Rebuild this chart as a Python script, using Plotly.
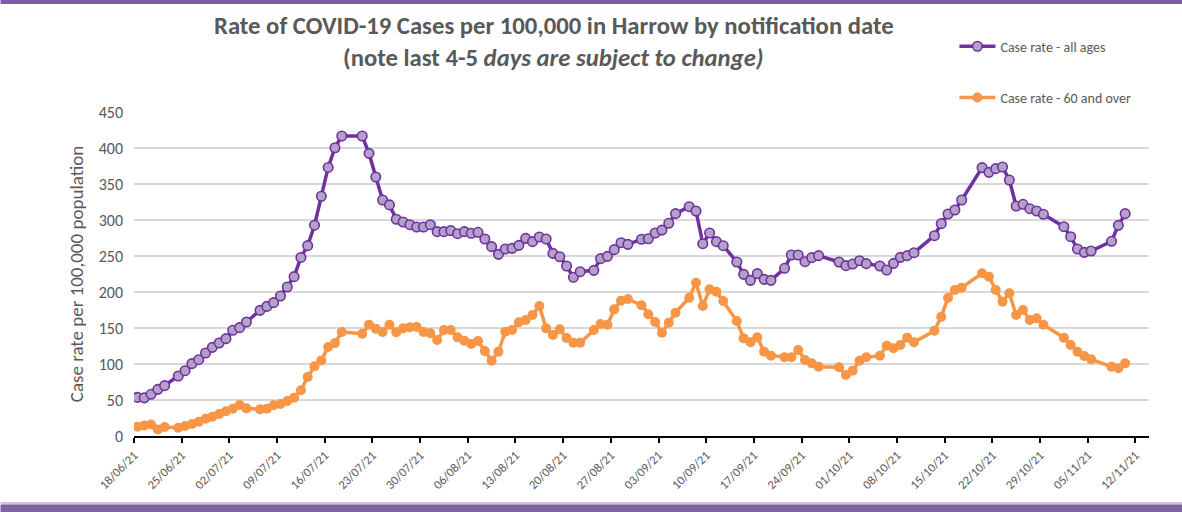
import pandas as pd
import plotly.graph_objects as go

# ---- data ----
dates = [
    "2021-06-18", "2021-06-19", "2021-06-20", "2021-06-21", "2021-06-22",
    "2021-06-24", "2021-06-25", "2021-06-26", "2021-06-27", "2021-06-28", "2021-06-29", "2021-06-30",
    "2021-07-01", "2021-07-02", "2021-07-03", "2021-07-04",
    "2021-07-06", "2021-07-07", "2021-07-08", "2021-07-09", "2021-07-10", "2021-07-11", "2021-07-12",
    "2021-07-13", "2021-07-14", "2021-07-15", "2021-07-16", "2021-07-17", "2021-07-18",
    "2021-07-21", "2021-07-22", "2021-07-23", "2021-07-24", "2021-07-25", "2021-07-26", "2021-07-27",
    "2021-07-28", "2021-07-29", "2021-07-30", "2021-07-31", "2021-08-01", "2021-08-02", "2021-08-03",
    "2021-08-04", "2021-08-05", "2021-08-06", "2021-08-07", "2021-08-08", "2021-08-09", "2021-08-10",
    "2021-08-11", "2021-08-12", "2021-08-13", "2021-08-14", "2021-08-15", "2021-08-16", "2021-08-17",
    "2021-08-18", "2021-08-19", "2021-08-20", "2021-08-21", "2021-08-22",
    "2021-08-24", "2021-08-25", "2021-08-26", "2021-08-27", "2021-08-28", "2021-08-29",
    "2021-08-31", "2021-09-01", "2021-09-02", "2021-09-03", "2021-09-04", "2021-09-05",
    "2021-09-07", "2021-09-08", "2021-09-09", "2021-09-10", "2021-09-11", "2021-09-12",
    "2021-09-14", "2021-09-15", "2021-09-16", "2021-09-17", "2021-09-18", "2021-09-19",
    "2021-09-21", "2021-09-22", "2021-09-23", "2021-09-24", "2021-09-25", "2021-09-26",
    "2021-09-29", "2021-09-30", "2021-10-01", "2021-10-02", "2021-10-03",
    "2021-10-05", "2021-10-06", "2021-10-07", "2021-10-08", "2021-10-09", "2021-10-10",
    "2021-10-13", "2021-10-14", "2021-10-15", "2021-10-16", "2021-10-17",
    "2021-10-20", "2021-10-21", "2021-10-22", "2021-10-23", "2021-10-24", "2021-10-25",
    "2021-10-26", "2021-10-27", "2021-10-28", "2021-10-29",
    "2021-11-01", "2021-11-02", "2021-11-03", "2021-11-04", "2021-11-05",
    "2021-11-08", "2021-11-09", "2021-11-10",
]

rate_all_ages = [
    53.7, 53, 57.9, 64.8, 69.9,
    83.3, 90.7, 100.5, 106, 115.3, 123.1, 129.2,
    135.2, 146.8, 150.5, 158.3,
    174.5, 180, 185.2, 194.4, 206.9, 221.3, 248,
    264.4, 292.8, 333, 373, 400.3, 416.7,
    416.7, 392.6, 359.7, 327.8, 321, 301, 297.2,
    293.5, 290.3, 290.3, 293.5, 283.8, 283.8, 285.2,
    281, 283.8, 281.5, 282.9, 273.6, 263, 252.3,
    259.7, 260.6, 264.8, 274.5, 269.9, 276.4, 273.6,
    253.7, 249, 236.1, 220.4, 228.2,
    230.1, 246.3, 249.5, 258.8, 268.5, 266.2,
    273.3, 274, 282, 286, 295.4, 308.8,
    318.5, 312.5, 267.1, 282, 269.9, 264.3,
    241.7, 224.5, 216.2, 225.5, 217.6, 216.2,
    232.9, 251.4, 251.4, 242.1, 247.7, 250.5,
    241.7, 236.6, 238.9, 243.5, 239.4,
    236.1, 230.6, 239.8, 248.1, 250.5, 254.6,
    278.2, 294.9, 308.3, 313.9, 327.8,
    372.7, 366.2, 371.3, 373.6, 355.6, 319.4,
    321.8, 315.7, 312.5, 307.9,
    290.7, 276.8, 259.7, 255.1, 257,
    270.4, 292.6, 308.8,
]

rate_60_over = [
    13, 14.5, 16, 9, 12.5,
    11.5, 13.9, 16.7, 19.9, 24, 26.8, 30.6,
    34.3, 38, 43, 38.4,
    37, 38, 42.6, 44.4, 48.6, 53.2, 63.5,
    82, 96.8, 105, 123.5, 129, 144.5,
    142, 154.6, 149, 144.5, 154.4, 144, 149.5,
    151, 151.4, 144.4, 142.6, 133.3, 147.2, 147.2,
    137, 132.4, 127.8, 131.9, 118, 104.6, 117.1,
    144.9, 147.2, 157.9, 161.1, 168, 180.6, 149.5,
    140.3, 148.1, 136.1, 129.6, 129.6,
    147.2, 155.6, 154.6, 175.9, 188, 190.3,
    181.7, 169, 158.3, 143.5, 157.4, 171.3,
    192.1, 212.9, 180.6, 203.7, 200.5, 187.5,
    159.7, 135.6, 130.1, 137, 117.1, 111.6,
    109.3, 109.3, 119.4, 105.6, 100.9, 96.3,
    95.4, 84.7, 90.7, 104.6, 109.3,
    111.6, 125.5, 121.8, 126.4, 136.6, 130.1,
    146.3, 165.7, 192.1, 202.8, 206,
    226, 221.3, 202.8, 186.5, 198.2, 168,
    175, 161.1, 163.4, 154.6,
    136.6, 126.4, 117.1, 111.1, 106.5,
    96.3, 94, 100.9,
]

y_ticks = [0, 50, 100, 150, 200, 250, 300, 350, 400, 450]
series_names = ["Case rate - all ages", "Case rate - 60 and over"]
title_line1 = "Rate of COVID-19 Cases per 100,000 in Harrow by notification date"
title_line2 = "(note last 4-5 <i>days are subject to change)</i>"
y_title = "Case rate per 100,000 population"

# ---- figure ----
FONT = "Carlito, Lato, Open Sans, sans-serif"
GREY = "#595959"
PURPLE = "#7030A0"
ORANGE = "#F79646"

# each date is a one-day slot on the axis; points sit in the middle of the slot
x = pd.to_datetime(dates) + pd.Timedelta(hours=12)

fig = go.Figure()
fig.add_trace(go.Scatter(
    x=x, y=rate_all_ages, name=series_names[0], mode="lines+markers",
    legendgroup="a",
    line=dict(color=PURPLE, width=3.5),
    marker=dict(size=9.5, color="#B3A2C7", line=dict(color=PURPLE, width=1.6)),
))
fig.add_trace(go.Scatter(
    x=x, y=rate_60_over, name=series_names[1], mode="lines+markers",
    legendgroup="b",
    line=dict(color=ORANGE, width=3.5),
    marker=dict(size=10, color=ORANGE),
))

W, H = 1182, 512
L, R, T, B = 133.5, 1148.6, 112.3, 436.0
pw, ph = R - L, B - T


def px_x(v):
    return (v - L) / pw


def px_y(v):
    return (B - v) / ph


fig.update_layout(
    width=W, height=H,
    margin=dict(l=L, r=W - R, t=T, b=H - B, autoexpand=False),
    paper_bgcolor="white", plot_bgcolor="white",
    font=dict(family=FONT, color=GREY, size=12),
    showlegend=True,
    legend=dict(
        x=px_x(954), y=px_y(31), xanchor="left", yanchor="top",
        font=dict(family=FONT, size=14, color=GREY),
        tracegroupgap=30, itemwidth=36, bgcolor="rgba(0,0,0,0)",
        traceorder="grouped",
    ),
    xaxis=dict(
        type="date",
        range=["2021-06-18", "2021-11-14"],
        tick0="2021-06-18", dtick=7 * 86400000,
        tickformat="%d/%m/%y", tickangle=-45,
        tickfont=dict(family=FONT, size=12.5, color=GREY),
        showgrid=False, zeroline=False,
        showline=True, linecolor="black", linewidth=2,
        ticks="outside", ticklen=5, tickwidth=1.5, tickcolor="black",
    ),
    yaxis=dict(
        range=[0, 450], tickvals=y_ticks,
        tickfont=dict(family=FONT, size=16, color=GREY),
        showgrid=True, gridcolor="#D9D9D9", gridwidth=1.5,
        zeroline=False, showline=False, ticks="", ticklabelstandoff=10,
        title=dict(text=y_title, font=dict(family=FONT, size=19, color=GREY), standoff=10),
    ),
)

fig.add_annotation(
    text="<b>" + title_line1 + "</b>", xref="paper", yref="paper",
    x=px_x(554), y=px_y(26), xanchor="center", yanchor="middle", showarrow=False,
    font=dict(family=FONT, size=24.7, color=GREY),
)
fig.add_annotation(
    text="<b>" + title_line2 + "</b>", xref="paper", yref="paper",
    x=px_x(553), y=px_y(58), xanchor="center", yanchor="middle", showarrow=False,
    font=dict(family=FONT, size=24.7, color=GREY),
)

# decorative purple bands at top and bottom of the slide
fig.add_shape(type="rect", xref="paper", yref="paper", layer="above",
              x0=px_x(0), x1=px_x(W), y0=px_y(0), y1=px_y(4.5),
              line=dict(width=0), fillcolor="#7B5EA7")
fig.add_shape(type="rect", xref="paper", yref="paper", layer="above",
              x0=px_x(0), x1=px_x(W), y0=px_y(502), y1=px_y(504.5),
              line=dict(width=0), fillcolor="#CFC4E0")
fig.add_shape(type="rect", xref="paper", yref="paper", layer="above",
              x0=px_x(0), x1=px_x(W), y0=px_y(504.5), y1=px_y(512),
              line=dict(width=0), fillcolor="#7F63A1")

fig.write_html(
    "out.html",
    config={"displayModeBar": False},
    post_script="document.body.style.margin='0';document.body.style.overflow='hidden';",
)
